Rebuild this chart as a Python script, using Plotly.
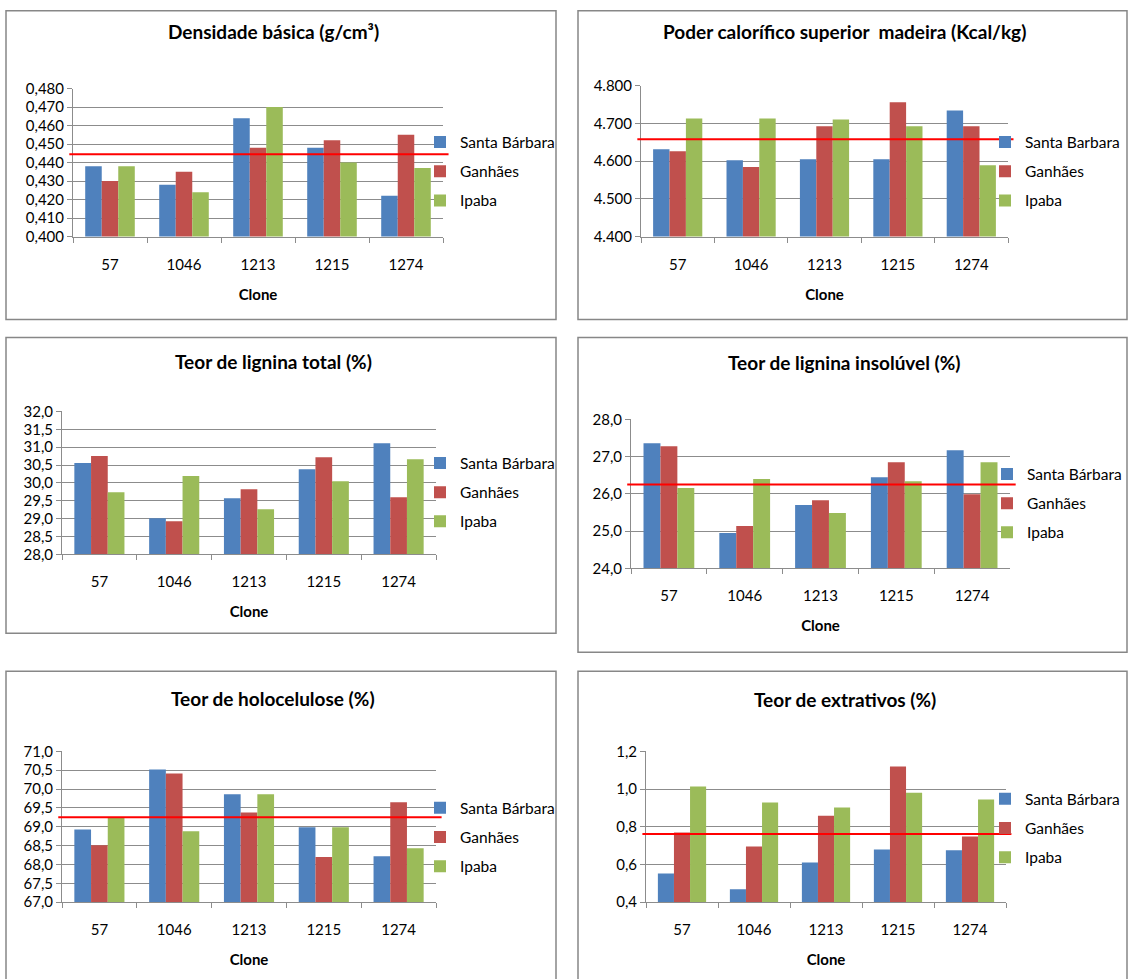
import plotly.graph_objects as go

W, H = 1131, 979

# ---- data -------------------------------------------------------------
clones = ["57", "1046", "1213", "1215", "1274"]
sites = ["Santa Bárbara", "Ganhães", "Ipaba"]
sites_pcs = ["Santa Barbara", "Ganhães", "Ipaba"]

dens_santa_barbara = [0.438, 0.428, 0.464, 0.448, 0.422]
dens_ganhaes = [0.430, 0.435, 0.448, 0.452, 0.455]
dens_ipaba = [0.438, 0.424, 0.470, 0.440, 0.437]
dens_mean = 0.4445

pcs_santa_barbara = [4631, 4602, 4605, 4605, 4734]
pcs_ganhaes = [4626, 4584, 4692, 4756, 4692]
pcs_ipaba = [4713, 4713, 4710, 4692, 4589]
pcs_mean = 4658

lig_tot_santa_barbara = [30.56, 29.01, 29.57, 30.38, 31.11]
lig_tot_ganhaes = [30.75, 28.93, 29.82, 30.72, 29.60]
lig_tot_ipaba = [29.74, 30.19, 29.26, 30.05, 30.66]

lig_ins_santa_barbara = [27.36, 24.95, 25.70, 26.45, 27.17]
lig_ins_ganhaes = [27.28, 25.14, 25.83, 26.85, 25.99]
lig_ins_ipaba = [26.16, 26.40, 25.49, 26.34, 26.85]
lig_ins_mean = 26.255

holo_santa_barbara = [68.93, 70.52, 69.86, 68.99, 68.22]
holo_ganhaes = [68.51, 70.41, 69.38, 68.20, 69.65]
holo_ipaba = [69.23, 68.88, 69.86, 68.99, 68.43]
holo_mean = 69.25

extr_santa_barbara = [0.553, 0.469, 0.611, 0.680, 0.675]
extr_ganhaes = [0.770, 0.696, 0.859, 1.119, 0.749]
extr_ipaba = [1.013, 0.929, 0.902, 0.981, 0.944]
extr_mean = 0.762

# ---- styling ----------------------------------------------------------
COLORS = ["#4F81BD", "#C0504D", "#9BBB59"]
GRID = "#8C8C8C"
FONT = "Lato, 'Open Sans', sans-serif"

panels = [
    dict(title="Densidade básica (g/cm³)",
         series=[dens_santa_barbara, dens_ganhaes, dens_ipaba], names=sites,
         yrange=[0.400, 0.480], dtick=0.01, fmt=".3f", mean=dens_mean,
         plot=(73, 443, 88, 236), box=(6, 556, 5, 319), title_y=31, leg=(420, 171)),
    dict(title="Poder calorífico superior  madeira (Kcal/kg)",
         series=[pcs_santa_barbara, pcs_ganhaes, pcs_ipaba], names=sites_pcs,
         yrange=[4400, 4800], dtick=100, fmt=",d", mean=pcs_mean,
         plot=(641, 1008, 85, 236), box=(578, 1127, 5, 319), title_y=31, leg=(985, 171)),
    dict(title="Teor de lignina total (%)",
         series=[lig_tot_santa_barbara, lig_tot_ganhaes, lig_tot_ipaba], names=sites,
         yrange=[28, 32], dtick=0.5, fmt=".1f", mean=None,
         plot=(62, 436, 411, 554), box=(6, 556, 337, 633), title_y=361, leg=(420, 492)),
    dict(title="Teor de lignina insolúvel (%)",
         series=[lig_ins_santa_barbara, lig_ins_ganhaes, lig_ins_ipaba], names=sites,
         yrange=[24, 28], dtick=1, fmt=".1f", mean=lig_ins_mean,
         plot=(631, 1010, 419, 568), box=(578, 1127, 337, 652), title_y=362, leg=(987, 503)),
    dict(title="Teor de holocelulose (%)",
         series=[holo_santa_barbara, holo_ganhaes, holo_ipaba], names=sites,
         yrange=[67, 71], dtick=0.5, fmt=".1f", mean=holo_mean,
         plot=(62, 436, 751, 902), box=(6, 556, 671, 995), title_y=698, leg=(420, 837)),
    dict(title="Teor de extrativos (%)",
         series=[extr_santa_barbara, extr_ganhaes, extr_ipaba], names=sites,
         yrange=[0.4, 1.2], dtick=0.2, fmt=".1f", mean=extr_mean,
         plot=(646, 1006, 751, 902), box=(578, 1127, 671, 995), title_y=699, leg=(985, 828)),
]

# page placement of the figure (vertical offset and scale of the view)
Y_OFF, Y_SCALE = 9.4, 0.982


def px_x(v):
    return v / W


def px_y(v):
    t = max((v - Y_OFF) / Y_SCALE, 0.75)
    return 1 - t / H


fig = go.Figure()
layout = dict(
    width=W, height=H,
    margin=dict(l=0, r=0, t=0, b=0),
    paper_bgcolor="white", plot_bgcolor="white",
    separators=",.",
    barmode="group",
    bargap=0.33, bargroupgap=0,
    font=dict(family=FONT, size=15, color="#000000"),
    shapes=[], annotations=[],
)

for i, p in enumerate(panels):
    k = "" if i == 0 else str(i + 1)
    xa, ya = "x" + k, "y" + k
    leg = "legend" + k
    x0, x1, y0, y1 = p["plot"]

    for j, (vals, name) in enumerate(zip(p["series"], p["names"])):
        fig.add_trace(go.Bar(
            x=clones, y=vals, name=name,
            marker=dict(color=COLORS[j], line=dict(width=0)),
            xaxis=xa, yaxis=ya, legend=leg,
            legendgroup=f"p{i}s{j}",
        ))

    layout["xaxis" + k] = dict(
        domain=[px_x(x0), px_x(x1)], anchor=ya,
        type="category", showline=True, linecolor=GRID, linewidth=1,
        ticks="outside", tickson="boundaries", ticklen=5, tickcolor=GRID,
        ticklabelstandoff=14, showgrid=False, fixedrange=True,
        tickfont=dict(size=15),
        title=dict(text="<b>Clone</b>", standoff=17,
                   font=dict(family=FONT, size=15)),
    )
    layout["yaxis" + k] = dict(
        domain=[px_y(y1), px_y(y0)], anchor=xa,
        range=p["yrange"], dtick=p["dtick"], tick0=p["yrange"][0],
        tickformat=p["fmt"], showline=True, linecolor=GRID, linewidth=1,
        ticks="outside", ticklen=5, tickcolor=GRID,
        showgrid=True, gridcolor=GRID, gridwidth=1, zeroline=False,
        tickfont=dict(size=15), fixedrange=True,
    )
    lx, ly = p["leg"]
    layout[leg] = dict(
        x=px_x(lx), y=px_y(ly), xanchor="left", yanchor="middle",
        bgcolor="rgba(0,0,0,0)", borderwidth=0,
        traceorder="grouped", tracegroupgap=6,
        font=dict(family=FONT, size=15.5, color="#000000"),
        itemwidth=30,
    )

    # chart frame
    bx0, bx1, by0, by1 = p["box"]
    layout["shapes"].append(dict(
        type="rect", xref="paper", yref="paper",
        x0=px_x(bx0), x1=px_x(bx1), y0=px_y(by1), y1=px_y(by0),
        line=dict(color="#878787", width=1.5), layer="below",
    ))
    # mean reference line
    if p["mean"] is not None:
        layout["shapes"].append(dict(
            type="line", xref=xa + " domain", yref=ya,
            x0=-0.01, x1=1.015, y0=p["mean"], y1=p["mean"],
            line=dict(color="#FF0000", width=2), layer="above",
        ))
    # chart title
    layout["annotations"].append(dict(
        text=f"<b>{p['title']}</b>", xref="paper", yref="paper",
        x=px_x((bx0 + bx1) / 2 - 8), y=px_y(p["title_y"]),
        xanchor="center", yanchor="middle", showarrow=False,
        font=dict(family=FONT, size=19, color="#000000"),
    ))

fig.update_layout(**layout)
fig.write_html("out.html", config={"displayModeBar": False})
